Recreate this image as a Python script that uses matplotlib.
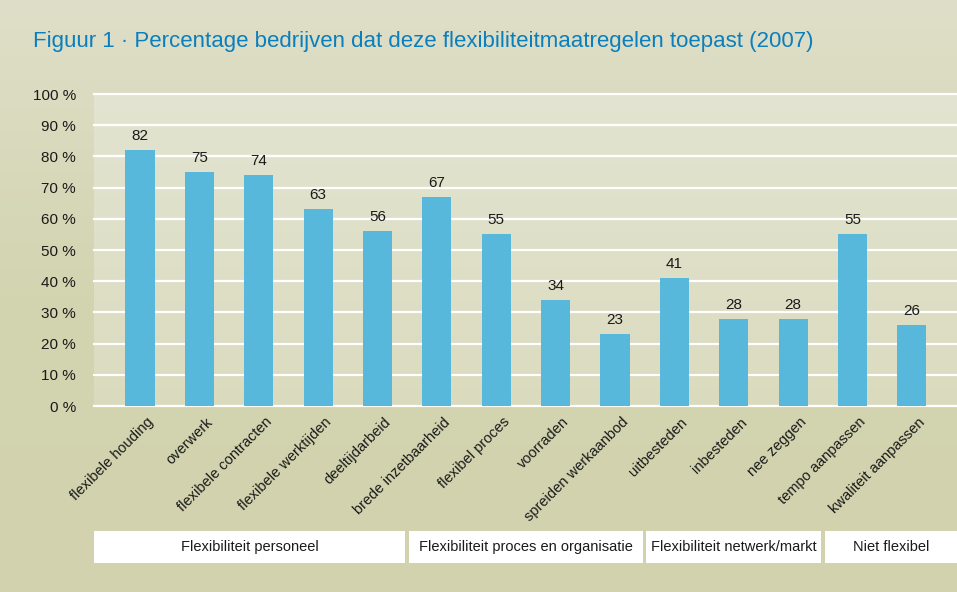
import numpy as np
import matplotlib
matplotlib.use("Agg")
import matplotlib.pyplot as plt
from matplotlib.patches import Rectangle
from matplotlib.colors import LinearSegmentedColormap
from matplotlib.transforms import blended_transform_factory

plt.rcParams['font.family'] = ['Liberation Sans', 'DejaVu Sans']

categories = ['flexibele houding', 'overwerk', 'flexibele contracten', 'flexibele werktijden',
              'deeltijdarbeid', 'brede inzetbaarheid', 'flexibel proces', 'voorraden',
              'spreiden werkaanbod', 'uitbesteden', 'inbesteden', 'nee zeggen',
              'tempo aanpassen', 'kwaliteit aanpassen']
values = [82, 75, 74, 63, 56, 67, 55, 34, 23, 41, 28, 28, 55, 26]
group_names = ['Flexibiliteit personeel', 'Flexibiliteit proces en organisatie',
               'Flexibiliteit netwerk/markt', 'Niet flexibel']
group_sizes = [5, 4, 3, 2]
yticks = list(range(0, 101, 10))

title = 'Figuur 1 · Percentage bedrijven dat deze flexibiliteitmaatregelen toepast (2007)'

fig = plt.figure(figsize=(9.57, 5.92), dpi=100)

# achtergrond met verloop
bg = fig.add_axes([0, 0, 1, 1], zorder=-10)
bg.axis('off')
cm_out = LinearSegmentedColormap.from_list('out', ['#d2d3ae', '#d3d4b0', '#dfdfc9'])
bg.imshow(np.linspace(0, 1, 256).reshape(-1, 1), cmap=cm_out, aspect='auto',
          origin='lower', extent=[0, 1, 0, 1])
bg.set_xlim(0, 1)
bg.set_ylim(0, 1)

ax = fig.add_axes([94 / 957, 1 - 406 / 592, (957 - 94) / 957, 312 / 592])
ax.set_facecolor('none')
cm_in = LinearSegmentedColormap.from_list('in', ['#dadbbe', '#e3e4d1'])
ax.imshow(np.linspace(0, 1, 256).reshape(-1, 1), cmap=cm_in, aspect='auto',
          origin='lower', extent=[0, 1, 0, 1], transform=ax.transAxes, zorder=0)

x = np.arange(len(categories))
ax.set_xlim(-0.775, 13.76)
ax.set_ylim(0, 100)

for t in yticks:
    ax.axhline(t, color='white', lw=1.6, zorder=1, clip_on=False)

ax.bar(x, values, width=0.49, color='#58b8dc', zorder=2)

for xi, v in zip(x, values):
    ax.annotate(str(v), (xi, v), xytext=(0, 5), textcoords='offset points',
                ha='center', va='bottom', fontsize=11, color='#1a1a1a')

ax.set_yticks(yticks)
ax.set_yticklabels([f'{t} %' for t in yticks], fontsize=11, color='#1a1a1a')
ax.tick_params(axis='y', length=0, pad=13)
ax.set_xticks([])
for s in ax.spines.values():
    s.set_visible(False)

for xi, c in zip(x, categories):
    ax.annotate(c, (xi, 0), xytext=(8, -10), textcoords='offset points',
                ha='right', va='center', rotation=45, rotation_mode='anchor',
                fontsize=10.5, color='#1a1a1a', annotation_clip=False)

# groepsvakken onder de labels
tr = blended_transform_factory(ax.transData, fig.transFigure)
start = 0
gap = 0.03
for i, (name, n) in enumerate(zip(group_names, group_sizes)):
    left = -0.775 if i == 0 else start - 0.5 + gap
    right = 14.5 if i == len(group_sizes) - 1 else start + n - 0.5 - gap
    ax.add_patch(Rectangle((left, 1 - 563 / 592), right - left, 32 / 592,
                           transform=tr, facecolor='white', edgecolor='none',
                           clip_on=False, zorder=3))
    cx = (left + min(right, 13.76)) / 2
    ax.text(cx, 1 - 547 / 592, name, transform=tr, ha='center', va='center',
            fontsize=10.5, color='#1a1a1a', zorder=4)
    start += n

fig.text(33 / 957, 1 - 42 / 592, title, ha='left', va='center',
         fontsize=16, color='#0a7fbd')

fig.savefig('out.png', dpi=100)
